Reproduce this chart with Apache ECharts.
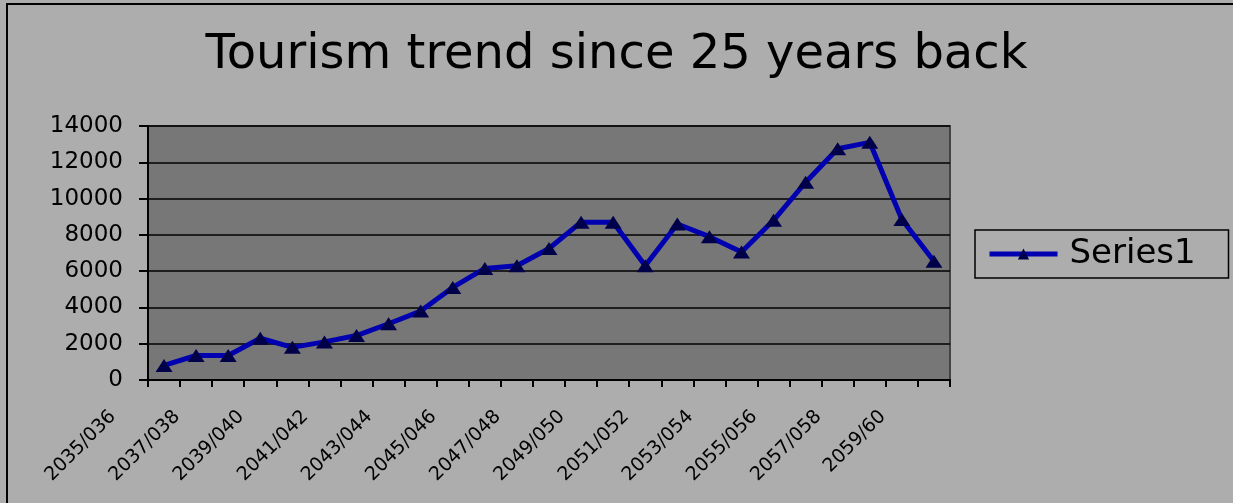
<!DOCTYPE html>
<html>
<head>
<meta charset="utf-8">
<script src="https://cdn.jsdelivr.net/npm/echarts@6/dist/echarts.min.js"></script>
<style>
html,body{margin:0;padding:0;background:#adadad;}
#chart{width:1233px;height:503px;}
</style>
</head>
<body>
<div id="chart"></div>
<script>
const categories = [
  '2035/036','2036/037','2037/038','2038/039','2039/040','2040/041','2041/042',
  '2042/043','2043/044','2044/045','2045/046','2046/047','2047/048','2048/049',
  '2049/050','2050/051','2051/052','2052/053','2053/054','2054/055','2055/056',
  '2056/057','2057/058','2058/059','2059/60'
];
const series1 = [
  800, 1350, 1350, 2300, 1800, 2100, 2450, 3100, 3800, 5100, 6150, 6300, 7250,
  8700, 8700, 6300, 8600, 7900, 7050, 8800, 10900, 12750, 13100, 8850, 6550
];
const yTicks = { min: 0, max: 14000, interval: 2000 };
const titleText = 'Tourism trend since 25 years back';
const seriesName = 'Series1';

const chart = echarts.init(document.getElementById('chart'), null, {renderer: 'canvas'});
const FONT = 'DejaVu Sans';
chart.setOption({
  backgroundColor: '#adadad',
  animation: false,
  title: {
    text: titleText,
    left: 'center',
    top: 27,
    textStyle: { fontFamily: FONT, fontSize: 48, fontWeight: 'normal', color: '#000' }
  },
  legend: {
    left: 975,
    top: 230,
    orient: 'vertical',
    padding: [7, 17, 7, 12],
    borderColor: '#000',
    borderWidth: 1.5,
    itemWidth: 68,
    itemHeight: 14,
    lineStyle: { width: 5 },
    textStyle: { fontFamily: FONT, fontSize: 34, color: '#000', lineHeight: 30, width: 142, padding: [0, 0, 0, 7] },
    data: [seriesName]
  },
  grid: {
    left: 148, right: 283, top: 126, bottom: 123,
    show: true,
    backgroundColor: '#777777',
    borderColor: '#444444',
    borderWidth: 2
  },
  xAxis: {
    type: 'category',
    data: categories,
    boundaryGap: true,
    axisLine: { lineStyle: { color: '#000', width: 2 } },
    axisTick: { show: true, interval: 0, length: 7, lineStyle: { color: '#000', width: 2 } },
    axisLabel: {
      interval: 1,
      rotate: 45,
      margin: 10,
      verticalAlign: 'bottom',
      padding: [0, 53, 10, 0],
      fontFamily: FONT,
      fontSize: 19,
      color: '#000'
    },
    splitLine: { show: false }
  },
  yAxis: {
    type: 'value',
    min: yTicks.min,
    max: yTicks.max,
    interval: yTicks.interval,
    axisLine: { show: true, lineStyle: { color: '#000', width: 2 } },
    axisTick: { show: true, length: 9, lineStyle: { color: '#000', width: 2 } },
    axisLabel: { margin: 25, fontFamily: FONT, fontSize: 23, color: '#000', formatter: function (v) { return String(v); } },
    splitLine: { show: true, lineStyle: { color: '#000', width: 1.5 } }
  },
  series: [{
    name: seriesName,
    type: 'line',
    data: series1,
    showAllSymbol: true,
    symbol: 'triangle',
    symbolSize: [17, 13],
    lineStyle: { color: '#0000b0', width: 5 },
    itemStyle: { color: '#00004a' }
  }],
  graphic: [
    { type: 'line', shape: { x1: 6, y1: 4, x2: 1233, y2: 4 }, style: { stroke: '#000', lineWidth: 2 }, silent: true },
    { type: 'line', shape: { x1: 7, y1: 3, x2: 7, y2: 503 }, style: { stroke: '#000', lineWidth: 2 }, silent: true }
  ]
});
</script>
</body>
</html>
